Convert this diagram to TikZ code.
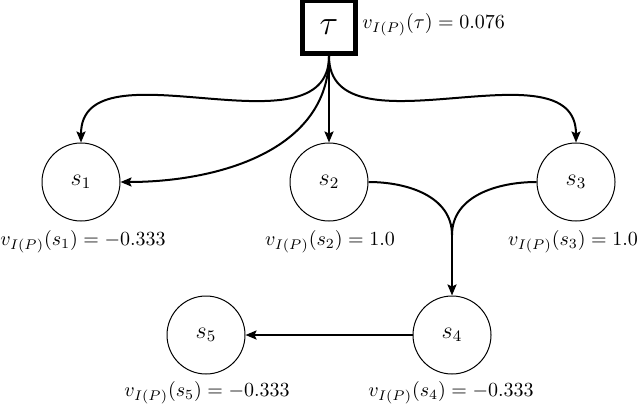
\documentclass[tikz,border=0pt]{standalone}
\usetikzlibrary{arrows.meta,calc}
\begin{document}
\begin{tikzpicture}[x=0.5pt,y=-0.5pt,
  state/.style={circle,draw,line width=0.5pt,minimum size=39pt,inner sep=0pt,font=\large},
  topbox/.style={rectangle,draw,line width=2.6pt,minimum size=26.5pt,inner sep=0pt,font=\LARGE},
  val/.style={inner sep=0pt},
  conn/.style={line width=1pt},
  arr/.style={conn,-{Stealth[length=5.5pt,width=4.5pt,inset=1pt]}}]
\useasboundingbox (0,0) rectangle (640,411);
\node[topbox] (tau) at (329,27) {$\tau$};
\node[state] (s1) at (81,182) {$s_1$};
\node[state] (s2) at (329,182) {$s_2$};
\node[state] (s3) at (576,182) {$s_3$};
\node[state] (s4) at (452,335) {$s_4$};
\node[state] (s5) at (206,335) {$s_5$};
\node[val,anchor=west] (lt) at (362,25) {$v_{I(P)}(\tau) = 0.076$};
\node[val] (l1) at (83,242) {$v_{I(P)}(s_1) = -0.333$};
\node[val] (l2) at (330,242) {$v_{I(P)}(s_2) = 1.0$};
\node[val] (l3) at (573,242) {$v_{I(P)}(s_3) = 1.0$};
\node[val] (l4) at (451,393) {$v_{I(P)}(s_4) = -0.333$};
\node[val] (l5) at (207,393) {$v_{I(P)}(s_5) = -0.333$};
\coordinate (m) at (452,235);
\draw[arr] (tau.south) to[out=-90,in=90] (s1.north);
\draw[arr] (tau.south) to[out=-90,in=0] (s1.east);
\draw[arr] (tau.south) -- (s2.north);
\draw[arr] (tau.south) to[out=-90,in=90] (s3.north);
\draw[conn] (s2.east) to[out=0,in=90] (m);
\draw[conn] (s3.west) to[out=180,in=90] (m);
\draw[arr] (m) -- (s4.north);
\draw[arr] (s4.west) -- (s5.east);
\end{tikzpicture}
\end{document}
